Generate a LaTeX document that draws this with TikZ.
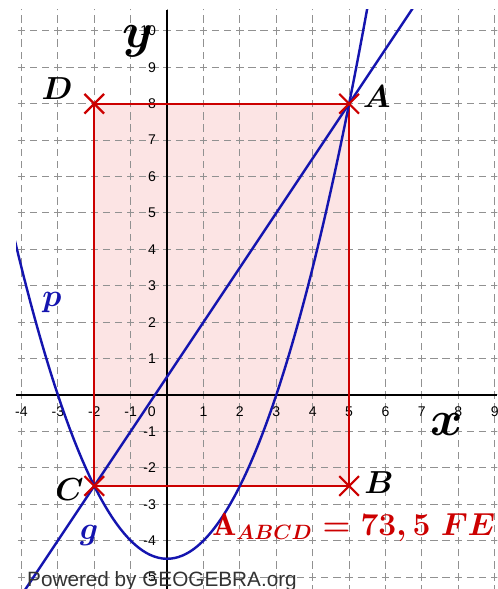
\documentclass[tikz,border=0pt]{standalone}
\usepackage{amsmath,amssymb,bm}
\usepackage{fontspec}
\newfontfamily\ggbsans{Liberation Sans}
\usepackage{xcolor}
\usetikzlibrary{positioning,shapes.misc}
\definecolor{ggbblue}{RGB}{20,20,175}
\definecolor{ggbred}{RGB}{204,0,0}
\definecolor{ggbfill}{RGB}{252,228,228}
\definecolor{ggbgrid}{RGB}{145,145,145}

\begin{document}
\begin{tikzpicture}[x=1cm,y=1cm,
  gridline/.style={ggbgrid,line width=0.75pt,dash pattern=on 0.2cm off 0.1333cm,dash phase=0.1cm},
  axisline/.style={black,line width=1.6pt},
  curve/.style={ggbblue,line width=1.9pt},
  rectedge/.style={ggbred,line width=1.7pt},
  ptmark/.style={draw=ggbred,cross out,line width=1.7pt,minimum size=0.48cm,inner sep=0pt},
  ticklab/.style={font=\ggbsans\fontsize{11}{12}\selectfont,inner sep=0pt},
  ptlab/.style={font=\fontsize{24.88}{28}\selectfont}]
\useasboundingbox (-4.59,-5.33) rectangle (9.07,10.85);
\coordinate (ptA) at (5,8);
\coordinate (ptB) at (5,-2.5);
\coordinate (ptC) at (-2,-2.5);
\coordinate (ptD) at (-2,8);
\coordinate (xl) at (-4.15,0);
\coordinate (xr) at (9.07,0);
\coordinate (yb) at (0,-5.33);
\coordinate (yt) at (0,10.58);
\coordinate (gS) at (-3.9,-5.35);
\coordinate (gE) at (6.75,10.625);
\fill[ggbfill] (ptA) rectangle (ptC);
\begin{scope}
\clip (-4.15,-5.33) rectangle (9.07,10.58);
\foreach \i in {-4,...,9}{
  \draw[gridline] (\i,-6) -- (\i,11);
}
\foreach \j in {-5,...,10}{
  \draw[gridline] (-5,\j) -- (10,\j);
}
\end{scope}
\draw[axisline] (xl) -- (xr);
\draw[axisline] (yb) -- (yt);
\foreach \i in {-4,-3,-2,-1,1,2,3,4,5,6,7,8,9}{
  \node[ticklab] (xt\i) at (\i,-0.47) {\i};
}
\node[ticklab] (xt0) at (-0.42,-0.47) {0};
\foreach \j in {-5,-4,-3,-2,-1,1,2,3,4,5,6,7,8,9,10}{
  \node[ticklab,anchor=east] (yt\j) at (-0.3,\j) {\j};
}
\draw[rectedge] (ptA) -- (ptB) -- (ptC) -- (ptD) -- cycle;
\begin{scope}
\clip (-4.15,-5.33) rectangle (9.07,10.58);
\draw[curve] plot[domain=-4.2:5.6,samples=90,smooth] (\x,{0.5*\x*\x-4.5});
\draw[curve] (gS) -- (gE);
\end{scope}
\foreach \p in {A,B,C,D}{
  \node[ptmark] (m\p) at (pt\p) {};
}
\node[ptlab] (lA) at (5.76,8.19) {$\boldsymbol{A}$};
\node[ptlab] (lB) at (5.82,-2.42) {$\boldsymbol{B}$};
\node[ptlab] (lC) at (-2.68,-2.61) {$\boldsymbol{C}$};
\node[ptlab] (lD) at (-3.02,8.43) {$\boldsymbol{D}$};
\node[ptlab,text=ggbblue] (lp) at (-3.16,2.55) {$\boldsymbol{p}$};
\node[ptlab,text=ggbblue] (lg) at (-2.14,-3.85) {$\boldsymbol{g}$};
\node[ptlab] (lx) at (7.69,-0.82) {\scalebox{1.55}{$\boldsymbol{x}$}};
\node[ptlab] (ly) at (-0.8,9.72) {\scalebox{1.55}{$\boldsymbol{y}$}};
\node[text=ggbred,anchor=base,font=\fontsize{24.88}{28}\selectfont\boldmath] (lArea) at (5.13,-3.85) {$\mathrm{A}_{\scalebox{0.78}{$\scriptstyle ABCD$}}=73{,}\,5\;FE$};
\node[anchor=base west,inner sep=0pt,text=black!80,font=\ggbsans\fontsize{16.2}{18}\selectfont] (ggb) at (-3.85,-5.25) {Powered by GEOGEBRA.org};
\end{tikzpicture}
\end{document}
